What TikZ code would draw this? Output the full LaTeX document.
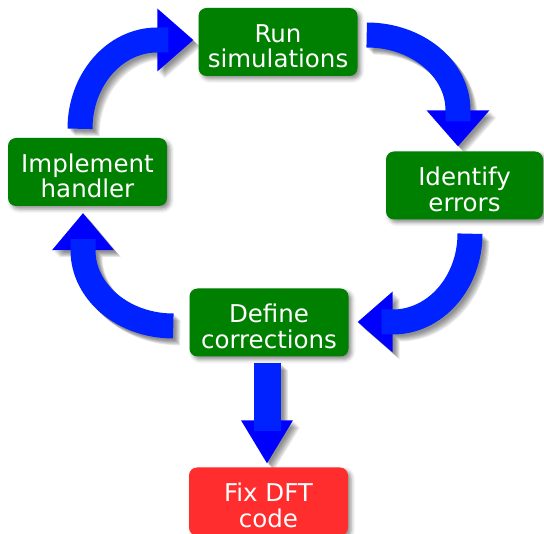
\documentclass[tikz,border=0pt]{standalone}
\usepackage{fontspec}
\setmainfont{DejaVu Sans}
\usetikzlibrary{calc,shadows.blur}
\definecolor{boxgreen}{RGB}{0,128,0}
\definecolor{boxred}{RGB}{255,45,45}
\definecolor{shaftblue}{RGB}{0,34,255}
\definecolor{headblue}{RGB}{0,0,255}
\pgfdeclarelayer{back}
\pgfsetlayers{back,main}
\newcommand{\topstrut}{\rule{0pt}{26pt}}
\tikzset{
  box/.style={rounded corners=8pt, minimum width=159pt, minimum height=68pt,
    inner sep=0pt, align=center, text=white,
    font=\fontsize{24.5}{25.5}\selectfont,
    blur shadow={shadow xshift=3pt, shadow yshift=-3pt, shadow blur radius=4pt, shadow opacity=45}},
  stepbox/.style={box, fill=boxgreen},
  endbox/.style={box, fill=boxred},
  shaft/.style={draw=#1, line width=25pt},
  downshaft/.style={draw=#1, line width=27pt},
  shadowlayer/.style={transform canvas={shift={(#1pt,-#1pt)}}, opacity=0.09},
}
\begin{document}
\begin{tikzpicture}[x=1pt,y=-1pt]
\useasboundingbox (0,0) rectangle (544,534);
% boxes
\node[stepbox] (run) at (278,42) {\topstrut Run\\simulations};
\node[stepbox, minimum width=157pt] (ident) at (464.5,185.5) {\topstrut Identify\\errors};
\node[stepbox] (impl) at (87.5,172) {\topstrut Implement\\handler};
\node[stepbox] (def) at (269,322.5) {\topstrut Define\\corrections};
\node[endbox] (fix) at (268.5,501.5) {\topstrut Fix DFT\\code};
% arrow geometry: start s, back of head m, tip e
\coordinate (s1) at ([xshift=-7.5pt,yshift=9pt]impl.north);
\coordinate (e1) at ([xshift=-5pt,yshift=2pt]run.west);
\coordinate (m1) at ([xshift=-36pt]e1);
\coordinate (k1) at (s1|-m1);
\coordinate (s2) at ([xshift=9pt,yshift=7pt]run.east);
\coordinate (e2) at ([xshift=-6.5pt,yshift=5pt]ident.north);
\coordinate (m2) at ([yshift=36pt]e2);
\coordinate (k2) at (m2|-s2);
\coordinate (s3) at ([xshift=5.5pt,yshift=-14pt]ident.south);
\coordinate (e3) at ([xshift=9pt,yshift=0.5pt]def.east);
\coordinate (m3) at ([xshift=35pt]e3);
\coordinate (k3) at (s3|-m3);
\coordinate (s4) at ([xshift=-16pt,yshift=-3.5pt]def.west);
\coordinate (e4) at ([xshift=-4.5pt,yshift=-7pt]impl.south);
\coordinate (m4) at ([yshift=-37pt]e4);
\coordinate (k4) at (m4|-s4);
\coordinate (s5) at ([xshift=-2pt,yshift=-6pt]def.south);
\coordinate (e5) at ([xshift=-1.5pt,yshift=4pt]fix.north);
\coordinate (m5) at ([yshift=43pt]e5);
\coordinate (k5) at (m5);
\foreach \i/\w in {1/31.5,2/31.5,3/30.5,4/31,5/26} {
  \coordinate (ca\i) at ($(s\i)!0.5523!(k\i)$);
  \coordinate (cb\i) at ($(m\i)!0.5523!(k\i)$);
  \coordinate (x\i) at ($(m\i)!11pt!(e\i)$);
  \coordinate (l\i) at ($(m\i)!\w pt!90:(e\i)$);
  \coordinate (r\i) at ($(m\i)!\w pt!-90:(e\i)$);
}
\begin{pgfonlayer}{back}
  % soft drop shadows
  \foreach \d in {2,3,4,5,6,7} {
    \begin{scope}[shadowlayer=\d]
      \foreach \i in {1,...,4} {
        \draw[shaft=black] (s\i) .. controls (ca\i) and (cb\i) .. (m\i);
      }
      \draw[downshaft=black] (s5) -- (m5);
      \foreach \i in {1,...,5} {
        \fill[black] (e\i) -- (l\i) -- (r\i) -- cycle;
      }
    \end{scope}
  }
  % arrows
  \foreach \i in {1,...,5} {
    \fill[headblue] (e\i) -- (l\i) -- (r\i) -- cycle;
  }
  \foreach \i in {1,...,4} {
    \draw[shaft=shaftblue] (s\i) .. controls (ca\i) and (cb\i) .. (m\i) -- (x\i);
  }
  \draw[downshaft=shaftblue] (s5) -- (x5);
\end{pgfonlayer}
\end{tikzpicture}
\end{document}
